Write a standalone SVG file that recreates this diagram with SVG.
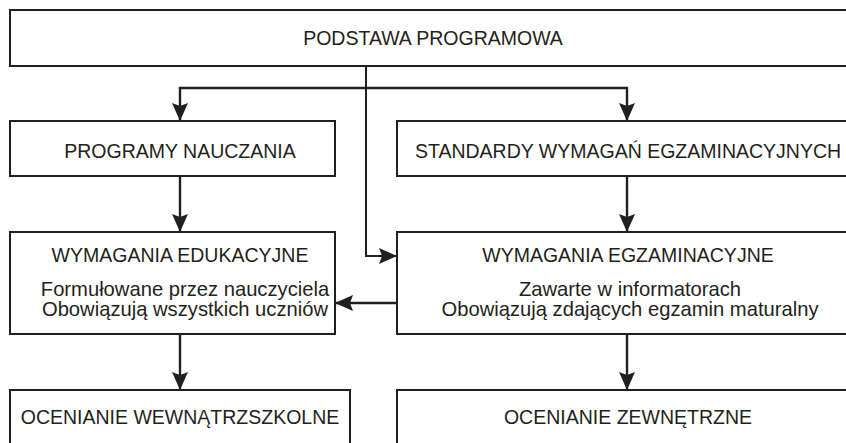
<svg xmlns="http://www.w3.org/2000/svg" width="846" height="443" viewBox="0 0 846 443">
  <style>
    .box { fill: #ffffff; stroke: #231f20; stroke-width: 2; }
    .t { font-family: "Liberation Sans", Arial, sans-serif; font-size: 19.5px; fill: #231f20; text-anchor: middle; }
    .s { font-size: 20.2px; }
    .c { fill: none; stroke: #231f20; stroke-width: 2.4; }
  </style>
  <defs>
    <marker id="arr" markerUnits="userSpaceOnUse" markerWidth="20" markerHeight="18" refX="18" refY="8" orient="auto">
      <path d="M0,0 L18,8 L0,16 L3,8 Z" fill="#231f20"/>
    </marker>
  </defs>
  <rect width="846" height="443" fill="#ffffff"/>

  <g id="podstawa">
    <rect class="box" x="10" y="10" width="850" height="56"/>
    <text class="t" x="433" y="45">PODSTAWA PROGRAMOWA</text>
  </g>
  <g id="programy">
    <rect class="box" x="10" y="121" width="325" height="55"/>
    <text class="t" x="180" y="158">PROGRAMY NAUCZANIA</text>
  </g>
  <g id="standardy">
    <rect class="box" x="397" y="121" width="460" height="55"/>
    <text class="t" x="628" y="158">STANDARDY WYMAGAŃ EGZAMINACYJNYCH</text>
  </g>
  <g id="wym-edu">
    <rect class="box" x="10" y="232" width="325" height="102"/>
    <text class="t" x="180" y="262">WYMAGANIA EDUKACYJNE</text>
    <text class="t s" x="185" y="296">Formułowane przez nauczyciela</text>
    <text class="t s" x="185" y="316">Obowiązują wszystkich uczniów</text>
  </g>
  <g id="wym-egz">
    <rect class="box" x="397" y="232" width="460" height="102"/>
    <text class="t" x="628" y="262">WYMAGANIA EGZAMINACYJNE</text>
    <text class="t s" x="630" y="296">Zawarte w informatorach</text>
    <text class="t s" x="630" y="316">Obowiązują zdających egzamin maturalny</text>
  </g>
  <g id="ocen-wew">
    <rect class="box" x="10" y="390" width="340" height="70"/>
    <text class="t" x="180" y="424">OCENIANIE WEWNĄTRZSZKOLNE</text>
  </g>
  <g id="ocen-zew">
    <rect class="box" x="397" y="390" width="460" height="70"/>
    <text class="t" x="628" y="424">OCENIANIE ZEWNĘTRZNE</text>
  </g>

  <g id="connectors">
    <path class="c" d="M366,66 V256 H397" marker-end="url(#arr)" style="stroke-width:2"/>
    <path class="c" d="M366,88 H180 V121" marker-end="url(#arr)"/>
    <path class="c" d="M366,88 H627 V121" marker-end="url(#arr)"/>
    <path class="c" d="M180,176 V232" marker-end="url(#arr)"/>
    <path class="c" d="M627,176 V232" marker-end="url(#arr)"/>
    <path class="c" d="M397,303 H335" marker-end="url(#arr)"/>
    <path class="c" d="M180,334 V390" marker-end="url(#arr)"/>
    <path class="c" d="M627,334 V390" marker-end="url(#arr)"/>
  </g>
</svg>
